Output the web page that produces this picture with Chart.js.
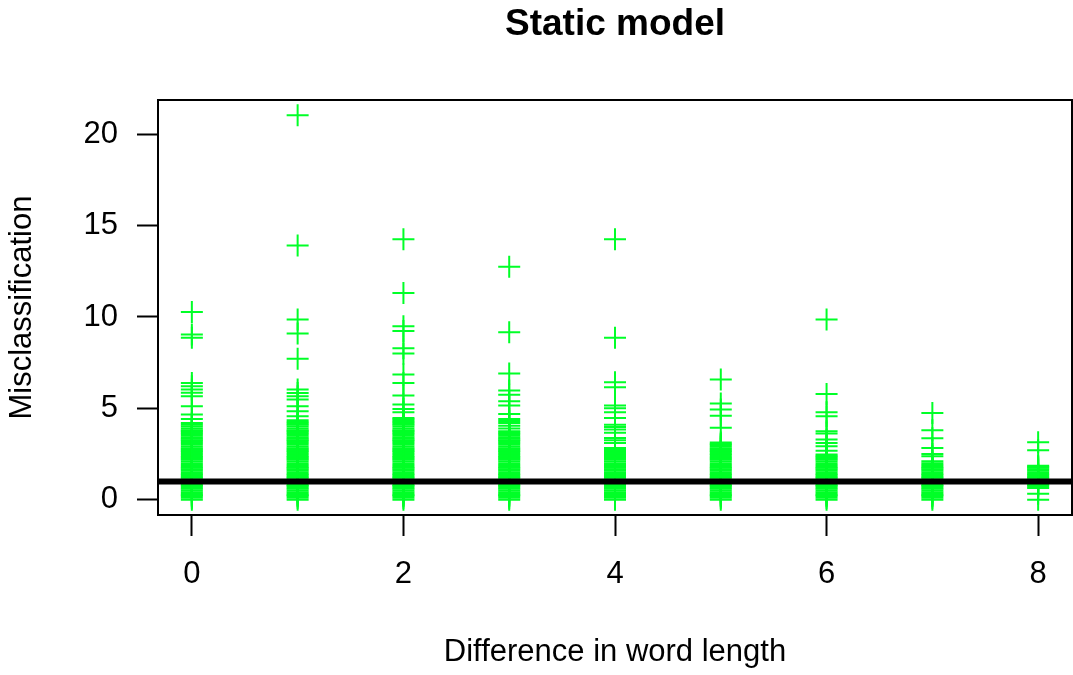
<!DOCTYPE html>
<html>
<head>
<meta charset="utf-8">
<script src="https://cdn.jsdelivr.net/npm/chart.js@4/dist/chart.umd.min.js"></script>
<style>
  html, body { margin: 0; padding: 0; background: #fff; }
  #wrap { width: 1073px; height: 675px; position: relative; }
</style>
</head>
<body>
<div id="wrap"><canvas id="plot"></canvas></div>
<script>
// word length difference per column, and misclassification values
const wordDiffs = [0, 1, 2, 3, 4, 5, 6, 7, 8];

const misc0 = [10.28, 9.04, 8.86, 6.39, 6.21, 6.03, 5.85, 5.66, 5.11, 4.66, 4.42,
  4.2, 4.1, 4, 3.9, 3.8, 3.75, 3.67, 3.6, 3.5, 3.4, 3.33, 3.25, 3.2, 3.1, 3, 2.9, 2.8, 2.75, 2.67, 2.6, 2.5,
  2.4, 2.33, 2.25, 2.2, 2.1, 2, 1.9, 1.8, 1.75, 1.67, 1.6, 1.5, 1.4, 1.33, 1.25, 1.2, 1.1, 1,
  0.9, 0.8, 0.75, 0.67, 0.6, 0.5, 0.4, 0.33, 0.25, 0.2, 0.1, 0];
const misc1 = [21.04, 13.92, 9.86, 9.1, 7.71, 6.03, 5.84, 5.66, 5.48, 5.11, 4.84, 4.57,
  4.35, 4.25, 4.17, 4.1, 4, 3.9, 3.8, 3.75, 3.67, 3.6, 3.5, 3.4, 3.33, 3.25, 3.2, 3.1, 3, 2.9, 2.8, 2.75,
  2.67, 2.6, 2.5, 2.4, 2.33, 2.25, 2.2, 2.1, 2, 1.9, 1.8, 1.75, 1.67, 1.6, 1.5, 1.4, 1.33, 1.25, 1.2, 1.1,
  1, 0.9, 0.8, 0.75, 0.67, 0.6, 0.5, 0.4, 0.33, 0.25, 0.2, 0.1, 0];
const misc2 = [14.25, 11.31, 9.5, 9.24, 8.29, 8, 6.85, 6.39, 5.7, 5.21, 4.97, 4.79,
  4.47, 4.4, 4.33, 4.25, 4.17, 4.1, 4, 3.9, 3.8, 3.75, 3.67, 3.6, 3.5, 3.4, 3.33, 3.25, 3.2, 3.1, 3, 2.9,
  2.8, 2.75, 2.67, 2.6, 2.5, 2.4, 2.33, 2.25, 2.2, 2.1, 2, 1.9, 1.8, 1.75, 1.67, 1.6, 1.5, 1.4, 1.33, 1.25,
  1.2, 1.1, 1, 0.9, 0.8, 0.75, 0.67, 0.6, 0.5, 0.4, 0.33, 0.25, 0.2, 0.1, 0];
const misc3 = [12.75, 9.17, 6.9, 5.97, 5.75, 5.39, 5.15, 4.69,
  4.41, 4.3, 4.2, 4.05, 3.9, 3.75, 3.67, 3.6, 3.5, 3.4, 3.33, 3.25, 3.2, 3.1, 3, 2.9, 2.8, 2.75, 2.67, 2.6,
  2.5, 2.4, 2.33, 2.25, 2.2, 2.1, 2, 1.9, 1.8, 1.75, 1.67, 1.6, 1.5, 1.4, 1.33, 1.25, 1.2, 1.1, 1,
  0.9, 0.8, 0.75, 0.67, 0.6, 0.5, 0.4, 0.33, 0.25, 0.2, 0.1, 0];
const misc4 = [14.25, 8.86, 6.43, 6.16, 5.15, 5, 4.79, 4.47, 4.1, 3.98, 3.84, 3.66, 3.38, 3.25, 3.1,
  2.83, 2.75, 2.67, 2.6, 2.5, 2.4, 2.33, 2.25, 2.2, 2.1, 2, 1.9, 1.8, 1.75, 1.67, 1.6, 1.5, 1.4, 1.33,
  1.25, 1.2, 1.1, 1, 0.9, 0.8, 0.75, 0.67, 0.6, 0.5, 0.4, 0.33, 0.25, 0.2, 0.1, 0];
const misc5 = [6.58, 5.26, 4.93, 4.6, 3.93,
  3.13, 3.05, 2.98, 2.9, 2.8, 2.75, 2.67, 2.6, 2.5, 2.43, 2.33, 2.25, 2.2, 2.1, 2, 1.9, 1.8, 1.75, 1.67,
  1.6, 1.5, 1.4, 1.33, 1.25, 1.2, 1.1, 1, 0.9, 0.8, 0.75, 0.67, 0.6, 0.5, 0.4, 0.33, 0.25, 0.2, 0.1, 0];
const misc6 = [9.86, 5.79, 4.79, 4.57, 3.74, 3.62, 3.29, 3.1, 2.92, 2.68,
  2.47, 2.4, 2.33, 2.25, 2.2, 2.1, 2, 1.9, 1.8, 1.75, 1.67, 1.6, 1.5, 1.4, 1.33, 1.25, 1.2, 1.1, 1,
  0.9, 0.8, 0.75, 0.67, 0.6, 0.5, 0.4, 0.33, 0.25, 0.2, 0.1, 0];
const misc7 = [4.75, 3.8, 3.36, 2.83, 2.5, 2.37,
  2.1, 2, 1.9, 1.8, 1.75, 1.67, 1.6, 1.5, 1.4, 1.33, 1.25, 1.2, 1.1, 1,
  0.9, 0.8, 0.75, 0.67, 0.6, 0.5, 0.4, 0.33, 0.25, 0.2, 0.1, 0];
const misc8 = [3.14, 2.7, 1.86, 1.8, 1.75, 1.67, 1.6, 1.5, 1.4, 1.33, 1.25, 1.2, 1.1, 1, 0.9, 0.8, 0.73,
  0.64, 0.33, 0];

const columns = [misc0, misc1, misc2, misc3, misc4, misc5, misc6, misc7, misc8];

const xTicks = [0, 2, 4, 6, 8];
const yTicks = [0, 5, 10, 15, 20];
const xRange = [-0.32, 8.32];
const yRange = [-0.84, 21.88];
const refLevel = 1;

const green = '#00ff27';
const fontFam = '"Liberation Sans", Arial, Helvetica, sans-serif';

let points = [];
columns.forEach((vals, i) => {
  vals.forEach(v => points.push({x: wordDiffs[i], y: v}));
});

// reference line + box round the plot region
const frame = {
  id: 'frame',
  afterDatasetsDraw(chart) {
    const {ctx, chartArea: a, scales: {y}} = chart;
    const py = y.getPixelForValue(refLevel);
    ctx.save();
    ctx.strokeStyle = '#000';
    ctx.lineWidth = 6;
    ctx.beginPath();
    ctx.moveTo(a.left, py);
    ctx.lineTo(a.right, py);
    ctx.stroke();
    ctx.lineWidth = 2;
    ctx.strokeRect(a.left, a.top, a.right - a.left, a.bottom - a.top);
    ctx.restore();
  }
};

const noPad = s => { s.paddingLeft = 0; s.paddingRight = 0; s.paddingTop = 0; s.paddingBottom = 0; };

new Chart(document.getElementById('plot'), {
  type: 'scatter',
  data: {
    datasets: [{
      data: points,
      pointStyle: 'cross',
      pointRadius: 11,
      pointHoverRadius: 11,
      borderColor: green,
      backgroundColor: green,
      borderWidth: 2
    }]
  },
  options: {
    responsive: true,
    maintainAspectRatio: false,
    animation: false,
    events: [],
    layout: { autoPadding: false, padding: { top: 0, left: 0, right: 1, bottom: 0 } },
    plugins: {
      legend: { display: false },
      tooltip: { enabled: false },
      title: {
        display: true,
        fullSize: false,
        text: 'Static model',
        color: '#000',
        font: { family: fontFam, size: 37, weight: 'bold' },
        padding: { top: 3, bottom: 52.6 }
      }
    },
    scales: {
      x: {
        type: 'linear',
        min: xRange[0],
        max: xRange[1],
        afterBuildTicks: s => { s.ticks = xTicks.map(v => ({value: v})); },
        afterFit: s => { s.height = 160; noPad(s); },
        border: { display: false },
        grid: { drawOnChartArea: false, drawTicks: true, tickLength: 21, tickColor: '#000', tickWidth: 2 },
        ticks: { color: '#000', padding: 20, maxRotation: 0, font: { family: fontFam, size: 31 } },
        title: {
          display: true,
          text: 'Difference in word length',
          color: '#000',
          font: { family: fontFam, size: 31 },
          padding: { top: 0, bottom: 4 }
        }
      },
      y: {
        type: 'linear',
        min: yRange[0],
        max: yRange[1],
        afterBuildTicks: s => { s.ticks = yTicks.map(v => ({value: v})); },
        afterFit: s => { s.width = 158; noPad(s); },
        border: { display: false },
        grid: { drawOnChartArea: false, drawTicks: true, tickLength: 21, tickColor: '#000', tickWidth: 2 },
        ticks: { color: '#000', padding: 19, font: { family: fontFam, size: 31 } },
        title: {
          display: true,
          text: 'Misclassification',
          color: '#000',
          font: { family: fontFam, size: 31 },
          padding: { top: 4, bottom: 0 }
        }
      }
    }
  },
  plugins: [frame]
});
</script>
</body>
</html>
